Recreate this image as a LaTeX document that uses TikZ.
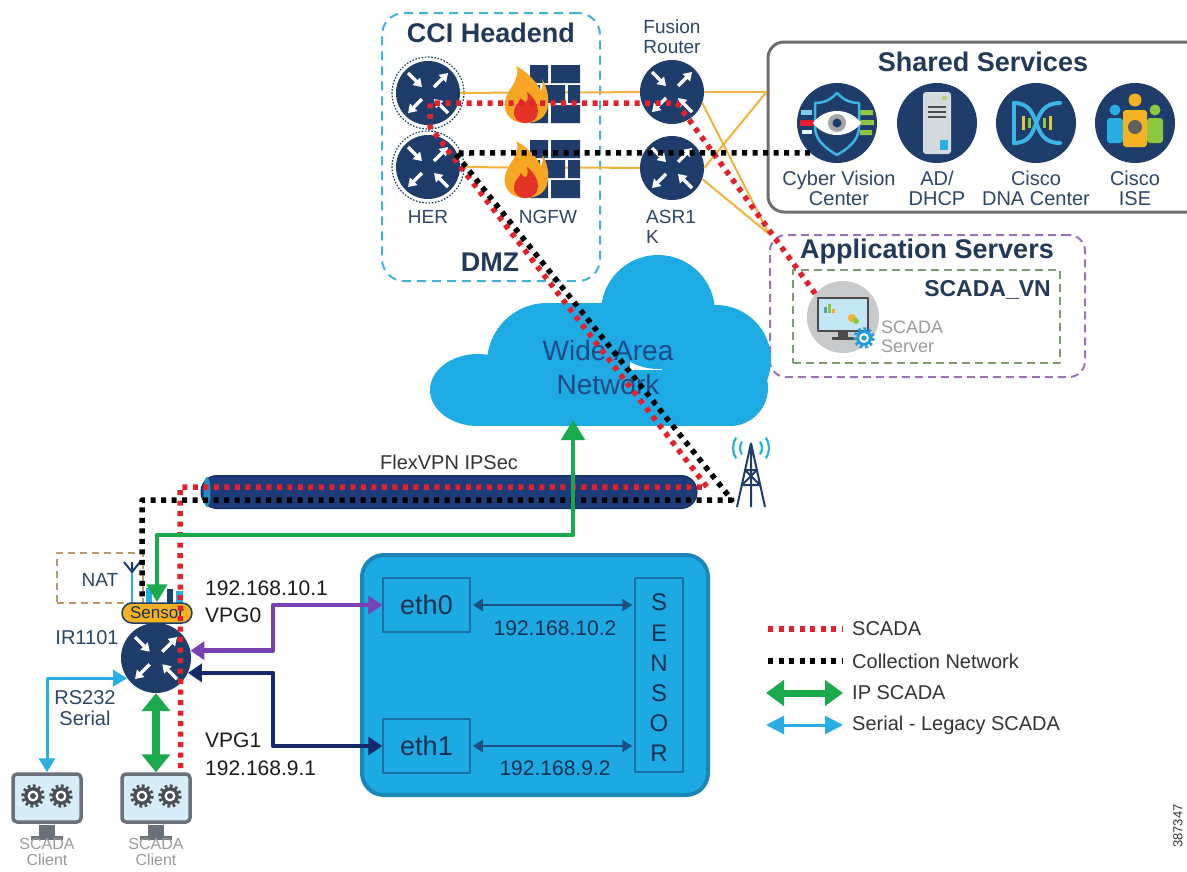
\documentclass[tikz,border=0pt]{standalone}
\usepackage{fontspec}
\setmainfont{Liberation Sans}
\usetikzlibrary{arrows.meta,calc}

\newcommand\fsz[2]{\fontsize{#1}{#2}\selectfont}

\definecolor{navy}{HTML}{1F3D6B}
\definecolor{titlec}{HTML}{22395A}
\definecolor{labelc}{HTML}{2E4666}
\definecolor{cloudc}{HTML}{1EABE3}
\definecolor{sensfill}{HTML}{1DA9E1}
\definecolor{sensedge}{HTML}{1A86B8}
\definecolor{ethedge}{HTML}{1A6FA3}
\definecolor{ethtext}{HTML}{15304F}
\definecolor{dmzc}{HTML}{44B2D6}
\definecolor{appc}{HTML}{9B72B9}
\definecolor{vnc}{HTML}{7E9B72}
\definecolor{shrc}{HTML}{6E6E6E}
\definecolor{orng}{HTML}{F2B23A}
\definecolor{scred}{HTML}{E3202B}
\definecolor{ipgreen}{HTML}{1BAA4B}
\definecolor{vpgpur}{HTML}{7B40B3}
\definecolor{vpgnavy}{HTML}{142A6C}
\definecolor{serblue}{HTML}{29AEE3}
\definecolor{tubec}{HTML}{1E3B7A}
\definecolor{tubeedge}{HTML}{142C5E}
\definecolor{flame}{HTML}{F6A623}
\definecolor{flamered}{HTML}{E53227}
\definecolor{scrn}{HTML}{D6EEF9}
\definecolor{grayc}{HTML}{9A9A9A}
\definecolor{monc}{HTML}{6B717A}
\definecolor{gearc}{HTML}{4A4F57}
\definecolor{ipc}{HTML}{1A1A1A}
\definecolor{legc}{HTML}{333333}
\definecolor{wanc}{HTML}{1D4A87}
\definecolor{natc}{HTML}{B89A6A}
\definecolor{cvgreen}{HTML}{8DC63F}
\definecolor{shieldc}{HTML}{3CB4E5}
\definecolor{srvc}{HTML}{D4D9DE}
\definecolor{dnay}{HTML}{E9C43A}
\definecolor{isey}{HTML}{F5B324}
\definecolor{srvgray}{HTML}{C8C9CB}
\definecolor{srvscr}{HTML}{C3E7F7}
\definecolor{gearblue}{HTML}{1E9DE0}
\definecolor{ethar}{HTML}{1B4F80}

\tikzset{
  router/.style={circle, fill=navy, minimum size=64pt, inner sep=0pt},
  svcicon/.style={circle, fill=navy, minimum size=80pt, inner sep=0pt},
  lbl/.style={font=\fsz{19}{20}, text=labelc, align=center, inner sep=0pt},
  ttl/.style={font=\bfseries\fsz{27}{30}, text=titlec, inner sep=0pt},
  iplbl/.style={font=\fsz{21}{24}, text=ipc, inner sep=0pt, anchor=west},
  leglbl/.style={font=\fsz{20}{24}, text=legc, inner sep=0pt, anchor=west},
  grylbl/.style={font=\fsz{16}{16}, text=grayc, align=center, inner sep=0pt},
  scadadot/.style={draw=scred, line width=5.5pt, dash pattern=on 5pt off 5.5pt},
  colldot/.style={draw=black, line width=5.5pt, dash pattern=on 5pt off 5.5pt},
  fusline/.style={draw=orng, line width=2pt},
  wanline/.style={draw=ipgreen, line width=4.5pt,
    {Triangle[length=18pt,width=20pt]}-{Triangle[length=20pt,width=23pt]}},
  ipscada/.style={draw=ipgreen, line width=8pt,
    {Triangle[length=18pt,width=28pt]}-{Triangle[length=18pt,width=28pt]}},
  serial/.style={draw=serblue, line width=3pt,
    {Triangle[length=14pt,width=16pt]}-{Triangle[length=14pt,width=16pt]}},
  vpg/.style={line width=4.5pt,
    {Triangle[length=14pt,width=18pt]}-{Triangle[length=14pt,width=18pt]}},
  etharrow/.style={draw=ethar, line width=2pt, shorten <=2pt, shorten >=2pt,
    {Triangle[length=10pt,width=12pt]}-{Triangle[length=10pt,width=12pt]}},
  monitor/.style={draw=monc, line width=3.5pt, fill=scrn, rounded corners=4pt,
    minimum width=68pt, minimum height=48pt, inner sep=0pt},
}

% white router arrows: two pointing in, two pointing out
\newcommand\rarrows[2]{%
  \foreach \a/\b/\c/\d in {-20/-20/-6/-6, 6/-6/20/-20, -6/6/-20/20, 20/20/6/6}{%
    \draw[white, line width=3.4pt, -{Triangle[length=8pt,width=10pt]}]
      ($(#1)+(\a*#2,\b*#2)$) -- ($(#1)+(\c*#2,\d*#2)$);
  }%
}

% toothed gear
\newcommand\gearicon[3]{%
  \draw[#3, line width=3.5pt, dash pattern=on 2.6pt off 2.6pt] (#1) circle (#2);
  \fill[#3] (#1) circle ({#2-1.2});
  \fill[white] (#1) circle ({#2*0.55});
  \fill[#3] (#1) circle ({#2*0.3});
}

% next-generation firewall: brick wall with a flame
\newcommand\firewall[1]{%
  \begin{scope}[shift={(#1)}]
    \fill[navy] (27,0) rectangle (45,18) (48,0) rectangle (77,18);
    \fill[navy] (27,20) rectangle (37,38) (40,20) rectangle (62,38) (65,20) rectangle (77,38);
    \fill[navy] (27,40) rectangle (45,58) (48,40) rectangle (77,58);
    \fill[flame] (22,58) .. controls (6,58) and (0,46) .. (2,36)
      .. controls (4,26) and (12,20) .. (14,10) .. controls (15,6) and (14,3) .. (13,1)
      .. controls (26,8) and (34,18) .. (38,26) .. controls (40,22) and (40,18) .. (39,14)
      .. controls (44,22) and (46,32) .. (45,40) .. controls (44,52) and (35,58) .. (22,58) -- cycle;
    \fill[flamered] (23,58) .. controls (14,58) and (10,52) .. (11,46)
      .. controls (12,40) and (16,38) .. (18,33) .. controls (20,37) and (22,38) .. (24,36)
      .. controls (25,32) and (25,30) .. (24,27) .. controls (31,32) and (35,40) .. (35,46)
      .. controls (35,53) and (30,58) .. (23,58) -- cycle;
  \end{scope}%
}

\begin{document}
\begin{tikzpicture}[x=1pt, y=-1pt, line join=round]
\useasboundingbox (0,0) rectangle (1187,871);
\fill[white] (0,0) rectangle (1187,871);

% ---------- containers ----------
\node[draw=dmzc, line width=2pt, dash pattern=on 9pt off 6pt, rounded corners=22pt,
      minimum width=218pt, minimum height=268pt, inner sep=0pt] (dmz) at (491,147) {};
\node[draw=shrc, line width=3pt, rounded corners=16pt,
      minimum width=440pt, minimum height=170pt, inner sep=0pt] (shared) at (988,127) {};
\node[draw=appc, line width=2pt, dash pattern=on 8pt off 5pt, rounded corners=16pt,
      minimum width=315pt, minimum height=142pt, inner sep=0pt] (appsrv) at (927.5,306) {};
\node[draw=vnc, line width=2pt, dash pattern=on 8pt off 5pt,
      minimum width=267pt, minimum height=93pt, inner sep=0pt] (vn) at (926.5,316.5) {};

% ---------- WAN cloud ----------
\begin{scope}[fill=cloudc]
  \fill (478,390) ellipse (48 and 36);
  \fill (547,363) circle (60);
  \fill (547,303) rectangle (630,426);
  \fill (658,312) circle (57);
  \fill (716,360) circle (55);
  \fill (730,388) circle (38);
  \fill (478,370) rectangle (735,426);
\end{scope}
\node[font=\fsz{28}{34}, text=wanc, align=center, inner sep=0pt] (wan) at (608,367) {Wide Area\\Network};
\coordinate (cloudbot) at (573,420);

% ---------- headend routers and firewalls ----------
\node[router] (her1) at (428,93) {};
\node[router] (her2) at (428,167) {};
\node[router] (fus) at (672,92) {};
\node[router] (asr) at (672,168) {};
\draw[navy, line width=1.2pt, dash pattern=on 1.6pt off 1.6pt] (her1) circle (36);
\draw[navy, line width=1.2pt, dash pattern=on 1.6pt off 1.6pt] (her2) circle (36);

\draw[fusline] (her1) -- (fus);
\draw[fusline] (her2) -- (asr);
\draw[fusline] (fus.east) -- (fus.east -| shared.west);
\draw[fusline] (fus.-20) -- (appsrv.north west);
\draw[fusline] (asr.east) -- (fus.east -| shared.west);
\draw[fusline] (asr.-20) -- (appsrv.north west);

\coordinate (fw1) at (503,65);
\coordinate (fw2) at (503,140);
\firewall{fw1}
\firewall{fw2}

\foreach \r in {her1,her2,fus,asr}{\rarrows{\r}{1}}

\node[ttl] (cci) at (491,33) {CCI Headend};
\node[ttl] (dmzl) at (490,262) {DMZ};
\node[lbl] (herl) at (428,217) {HER};
\node[lbl] (ngfwl) at (548,217) {NGFW};
\node[lbl] (fusl) at (672,37) {Fusion\\Router};
\node[lbl, align=left, anchor=north west] (asrl) at (646,210) {ASR1\\K};

% ---------- shared services ----------
\node[ttl] (shrt) at (983,62) {Shared Services};
\node[svcicon] (cv) at (837,123) {};
\node[svcicon] (ad) at (937,123) {};
\node[svcicon] (dna) at (1036,123) {};
\node[svcicon] (ise) at (1135,123) {};

\begin{scope}[shift={(cv)}]
  \fill[scred] (-37,-3) rectangle (-23,3);
  \fill[serblue!60] (-36,-13) rectangle (-25,-8);
  \fill[white!85!serblue] (-35,7) rectangle (-25,11);
  \fill[cvgreen] (23,-13) rectangle (36,-8) (23,-3) rectangle (37,2) (23,7) rectangle (35,12);
  \draw[shieldc, line width=2.5pt] (-22,-20) .. controls (-10,-20) and (-4,-26) .. (0,-30)
    .. controls (4,-26) and (10,-20) .. (22,-20) -- (22,4) .. controls (22,18) and (10,26) .. (0,32)
    .. controls (-10,26) and (-22,18) .. (-22,4) -- cycle;
  \fill[white] (-24,0) .. controls (-12,-16) and (12,-16) .. (24,0)
    .. controls (12,16) and (-12,16) .. (-24,0) -- cycle;
  \fill[gray!70] (0,0) circle (9);
  \fill[navy] (0,0) circle (4.5);
\end{scope}

\begin{scope}[shift={(ad)}]
  \fill[srvc, rounded corners=3pt] (-14,-31) rectangle (14,31);
  \draw[gray!60!black, line width=1.5pt] (-9,-16) -- (9,-16) (-9,-11) -- (9,-11) (-9,-6) -- (9,-6);
  \fill[serblue] (3,17) rectangle (11,27);
  \fill[cvgreen!70] (5,-27) rectangle (10,-23);
\end{scope}

\begin{scope}[shift={(dna)}]
  \draw[shieldc, line width=4pt, line cap=round] (-22,-20) .. controls (8,-20) and (-8,20) .. (24,20);
  \draw[shieldc, line width=4pt, line cap=round] (-22,20) .. controls (8,20) and (-8,-20) .. (24,-20);
  \draw[shieldc, line width=4pt, line cap=round] (-22,-20) -- (-22,20);
  \fill[dnay] (-14,-7) rectangle (-11,7);
  \fill[cvgreen] (-8,-5) rectangle (-5,5);
  \fill[cvgreen] (7,-5) rectangle (10,5);
  \fill[dnay] (13,-7) rectangle (16,7);
\end{scope}

\begin{scope}[shift={(ise)}]
  \fill[serblue] (-20,-13) circle (5.5);
  \fill[serblue, rounded corners=3pt] (-28,-5) rectangle (-12,20);
  \fill[cvgreen] (20,-13) circle (5.5);
  \fill[cvgreen, rounded corners=3pt] (12,-5) rectangle (28,20);
  \fill[isey] (0,-23) circle (6.5);
  \fill[isey, rounded corners=3pt] (-12,-13) rectangle (12,24);
  \fill[gray!75!black] (0,4) circle (7);
\end{scope}

\node[lbl, font=\fsz{20}{20}] (cvl) at (839,188) {Cyber Vision\\Center};
\node[lbl, font=\fsz{20}{20}] (adl) at (937,188) {AD/\\DHCP};
\node[lbl, font=\fsz{20}{20}] (dnal) at (1036,188) {Cisco\\DNA Center};
\node[lbl, font=\fsz{20}{20}] (isel) at (1135,188) {Cisco\\ISE};

% ---------- application servers ----------
\node[ttl] (appt) at (927,252) {Application Servers};
\node[font=\bfseries\fsz{23}{26}, text=titlec, inner sep=0pt, anchor=east] (vnl) at (1051,290) {SCADA\_VN};
\node[circle, fill=srvgray, minimum size=72pt, inner sep=0pt] (scadasrv) at (843,317) {};
\begin{scope}[shift={(scadasrv)}]
  \draw[gray!60!black, line width=2pt, fill=srvscr] (-25,-19) rectangle (25,14);
  \fill[gray!60!black] (-5,15) rectangle (5,21);
  \fill[gray!60!black] (-11,20) rectangle (11,23);
  \fill[teal!70] (-19,-4) rectangle (-16,-10);
  \fill[cvgreen] (-15,-4) rectangle (-12,-13);
  \fill[isey] (-11,-4) rectangle (-8,-8);
  \fill[isey] (9,1) circle (4);
  \fill[cvgreen] (13,4) circle (3);
  \gearicon{21,21}{9}{gearblue}
\end{scope}
\node[font=\fsz{18}{19}, text=grayc, align=left, inner sep=0pt, anchor=west] (srvl) at (881,337) {SCADA\\Server};

% ---------- FlexVPN tunnel and tower ----------
\node[fill=tubec, draw=tubeedge, line width=1pt, rounded corners=16pt,
      minimum width=496pt, minimum height=33pt, inner sep=0pt] (vpn) at (449,492) {};
\fill[serblue!70!navy] (207,492) ellipse (3.5 and 15);
\node[font=\fsz{20}{22}, text=legc, inner sep=0pt] (vpnl) at (449,462) {FlexVPN IPSec};

\coordinate (tower) at (751,476);
\draw[navy, line width=2pt]
  ($(tower)+(0,-33)$) -- ($(tower)+(-14,31)$)
  ($(tower)+(0,-33)$) -- ($(tower)+(14,31)$)
  ($(tower)+(0,-33)$) -- ($(tower)+(0,31)$)
  ($(tower)+(-6,-6)$) -- ($(tower)+(6,-6)$)
  ($(tower)+(-9,9)$) -- ($(tower)+(9,9)$)
  ($(tower)+(-6,-6)$) -- ($(tower)+(9,9)$)
  ($(tower)+(6,-6)$) -- ($(tower)+(-9,9)$);
\coordinate (wave) at (751,448);
\draw[serblue, line width=2.2pt]
  ($(wave)+(145:11)$) arc (145:215:11)
  ($(wave)+(145:18)$) arc (145:215:18)
  ($(wave)+(-35:11)$) arc (-35:35:11)
  ($(wave)+(-35:18)$) arc (-35:35:18);

% ---------- sensor host ----------
\node[fill=sensfill, draw=sensedge, line width=4pt, rounded corners=22pt,
      minimum width=346pt, minimum height=240pt, inner sep=0pt] (sbox) at (535,675) {};
\node[draw=ethedge, line width=1.5pt, minimum width=87pt, minimum height=54pt,
      font=\fsz{27}{27}, text=ethtext, inner sep=0pt] (eth0) at (426.5,605) {eth0};
\node[draw=ethedge, line width=1.5pt, minimum width=87pt, minimum height=54pt,
      font=\fsz{27}{27}, text=ethtext, inner sep=0pt] (eth1) at (426.5,746) {eth1};
\node[draw=ethedge, line width=1.5pt, minimum width=48pt, minimum height=194pt, inner sep=0pt] (sens) at (659,675) {};
\node[font=\fsz{24}{30.2}, text=ethtext, align=center, inner sep=0pt] (senst) at (659,678) {S\\E\\N\\S\\O\\R};
\draw[etharrow] (eth0.east) -- (eth0.east -| sens.west);
\draw[etharrow] (eth1.east) -- (eth1.east -| sens.west);
\node[font=\fsz{21}{24}, text=ethtext, inner sep=0pt] (ip102) at (555,628) {192.168.10.2};
\node[font=\fsz{21}{24}, text=ethtext, inner sep=0pt] (ip92) at (555,768) {192.168.9.2};

% ---------- IR1101 gateway ----------
\node[draw=natc, line width=1.8pt, dash pattern=on 7pt off 5pt,
      minimum width=86pt, minimum height=50pt, inner sep=0pt] (nat) at (100,578) {};
\node[lbl, font=\fsz{19}{20}] (natl) at (100,580) {NAT};
\draw[serblue, line width=2pt] (132,570) -- (132,603);
\draw[navy, line width=2pt] (124,562) -- (132,572) -- (140,562) (132,562) -- (132,572);
\fill[serblue] (146,588) rectangle (152,603);
\fill[navy] (167,589) rectangle (173,603);
\fill[serblue] (176,591) rectangle (183,603);

\node[router, minimum size=70pt] (ir) at (156,658) {};
\rarrows{ir}{1.05}
\node[fill=isey, draw=navy, line width=1.5pt, rounded corners=10pt, minimum width=70pt,
      minimum height=20pt, inner sep=0pt, font=\fsz{17}{17}, text=ethtext] (pill) at (157,613) {Sensor};
\node[lbl, font=\fsz{20}{20}] (irl) at (87,638) {IR1101};
\node[lbl, font=\fsz{20}{21}] (rsl) at (85,708) {RS232\\Serial};

% ---------- SCADA clients ----------
\node[monitor] (cl1) at (47,798) {};
\node[monitor] (cl2) at (156,798) {};
\foreach \c in {cl1,cl2}{
  \fill[monc] ($(\c.south)+(-8,1)$) rectangle ($(\c.south)+(8,13)$);
  \fill[monc] ($(\c.south)+(-16,12)$) rectangle ($(\c.south)+(16,16)$);
  \gearicon{$(\c)+(-14,-2)$}{10}{gearc}
  \gearicon{$(\c)+(14,-2)$}{10}{gearc}
}
\node[grylbl] (cl1l) at (47,852) {SCADA\\Client};
\node[grylbl] (cl2l) at (156,852) {SCADA\\Client};

% ---------- traffic paths ----------
\draw[scadadot] (scadasrv.140) -- (677,103) -- (430,103) -- (430,127) -- (707,487)
  -- (180,487) -- ($(cl2.north east)+(-11,0)$);
\draw[colldot] (cv.228) -- (455,153) -- (732,500) -- (142,500) -- (142,597);

\coordinate (gturn) at (0,535);
\draw[wanline] (pill.north) -- (pill.north |- gturn) -- (cloudbot |- gturn) -- (cloudbot);
\draw[ipscada] (ir.south) -- (cl2.north);
\draw[serial] (ir.215) -- (ir.215 -| cl1.north) -- (cl1.north);
\coordinate (vp) at (273,0);
\draw[vpg, draw=vpgpur, color=vpgpur] (ir.12) -- (ir.12 -| vp) -- (vp |- eth0.west) -- (eth0.west);
\draw[vpg, draw=vpgnavy, color=vpgnavy] (ir.-25) -- (ir.-25 -| vp) -- (vp |- eth1.west) -- (eth1.west);

\node[iplbl] (ip101) at (205,588) {192.168.10.1};
\node[iplbl] (vpg0) at (205,615) {VPG0};
\node[iplbl] (vpg1) at (205,740) {VPG1};
\node[iplbl] (ip91) at (205,768) {192.168.9.1};

% ---------- legend ----------
\node[leglbl] (lg1) at (852,629) {SCADA};
\node[leglbl] (lg2) at (852,661) {Collection Network};
\node[leglbl] (lg3) at (852,693) {IP SCADA};
\node[leglbl] (lg4) at (852,725) {Serial - Legacy SCADA};
\draw[scadadot] ($(lg1.west)+(-84,0)$) -- ($(lg1.west)+(-10,0)$);
\draw[colldot] ($(lg2.west)+(-84,0)$) -- ($(lg2.west)+(-10,0)$);
\draw[draw=ipgreen, line width=7pt,
  {Triangle[length=18pt,width=25pt]}-{Triangle[length=18pt,width=25pt]}]
  ($(lg3.west)+(-86,0)$) -- ($(lg3.west)+(-9,0)$);
\draw[serial, {Triangle[length=18pt,width=18pt]}-{Triangle[length=18pt,width=18pt]}]
  ($(lg4.west)+(-86,0)$) -- ($(lg4.west)+(-9,0)$);

\node[font=\fsz{13}{13}, text=legc, rotate=90, inner sep=0pt] (fig) at (1178,826) {387347};
\end{tikzpicture}
\end{document}
